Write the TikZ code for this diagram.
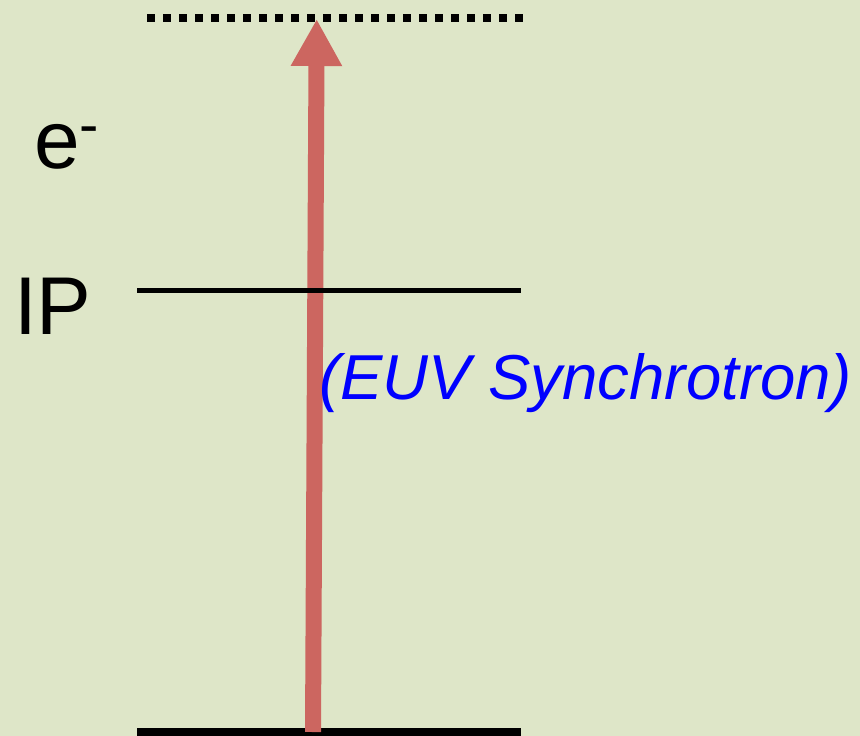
\documentclass[tikz,border=0pt]{standalone}
\usepackage{fontspec}
\setmainfont{Liberation Sans}
\usetikzlibrary{arrows.meta}
\definecolor{bgc}{HTML}{DEE6C8}
\definecolor{arrc}{HTML}{CC6660}
\definecolor{labblue}{HTML}{0000FF}
\tikzset{
  level/.style={draw=black, line width=#1},
  excite/.style={draw=arrc, line width=16pt, -{Triangle[width=48pt,length=47pt]}},
  lab/.style={inner sep=0pt, anchor=base west},
}
\begin{document}
\begin{tikzpicture}[x=1pt,y=-1pt]
\fill[bgc] (0,0) rectangle (860,736);
\useasboundingbox (0,0) rectangle (860,736);
% levels
\coordinate (g1) at (137,732);
\coordinate (g2) at (521,732);
\coordinate (i1) at (137,290.3);
\coordinate (i2) at (521,290.3);
\coordinate (c1) at (147,18);
\coordinate (c2) at (525,18);
\coordinate (base) at (313,732);
\coordinate (tip) at (316.7,19);
\draw[level=8pt] (g1) -- (g2);
\draw[level=8pt, dash pattern=on 8pt off 8pt] (c1) -- (c2);
\draw[excite] (base) -- (tip);
\draw[level=5.5pt] (i1) -- (i2);
\node[lab, font=\fontsize{82}{82}\selectfont] (ip) at (14,334) {IP};
\node[lab, font=\fontsize{82}{82}\selectfont] (el) at (34,168) {e\raisebox{24pt}{\fontsize{58}{58}\selectfont -}};
\node[lab, text=labblue, font=\fontsize{63.5}{63.5}\selectfont\itshape] (euv) at (319,399) {(EUV Synchrotron)};
\end{tikzpicture}
\end{document}
